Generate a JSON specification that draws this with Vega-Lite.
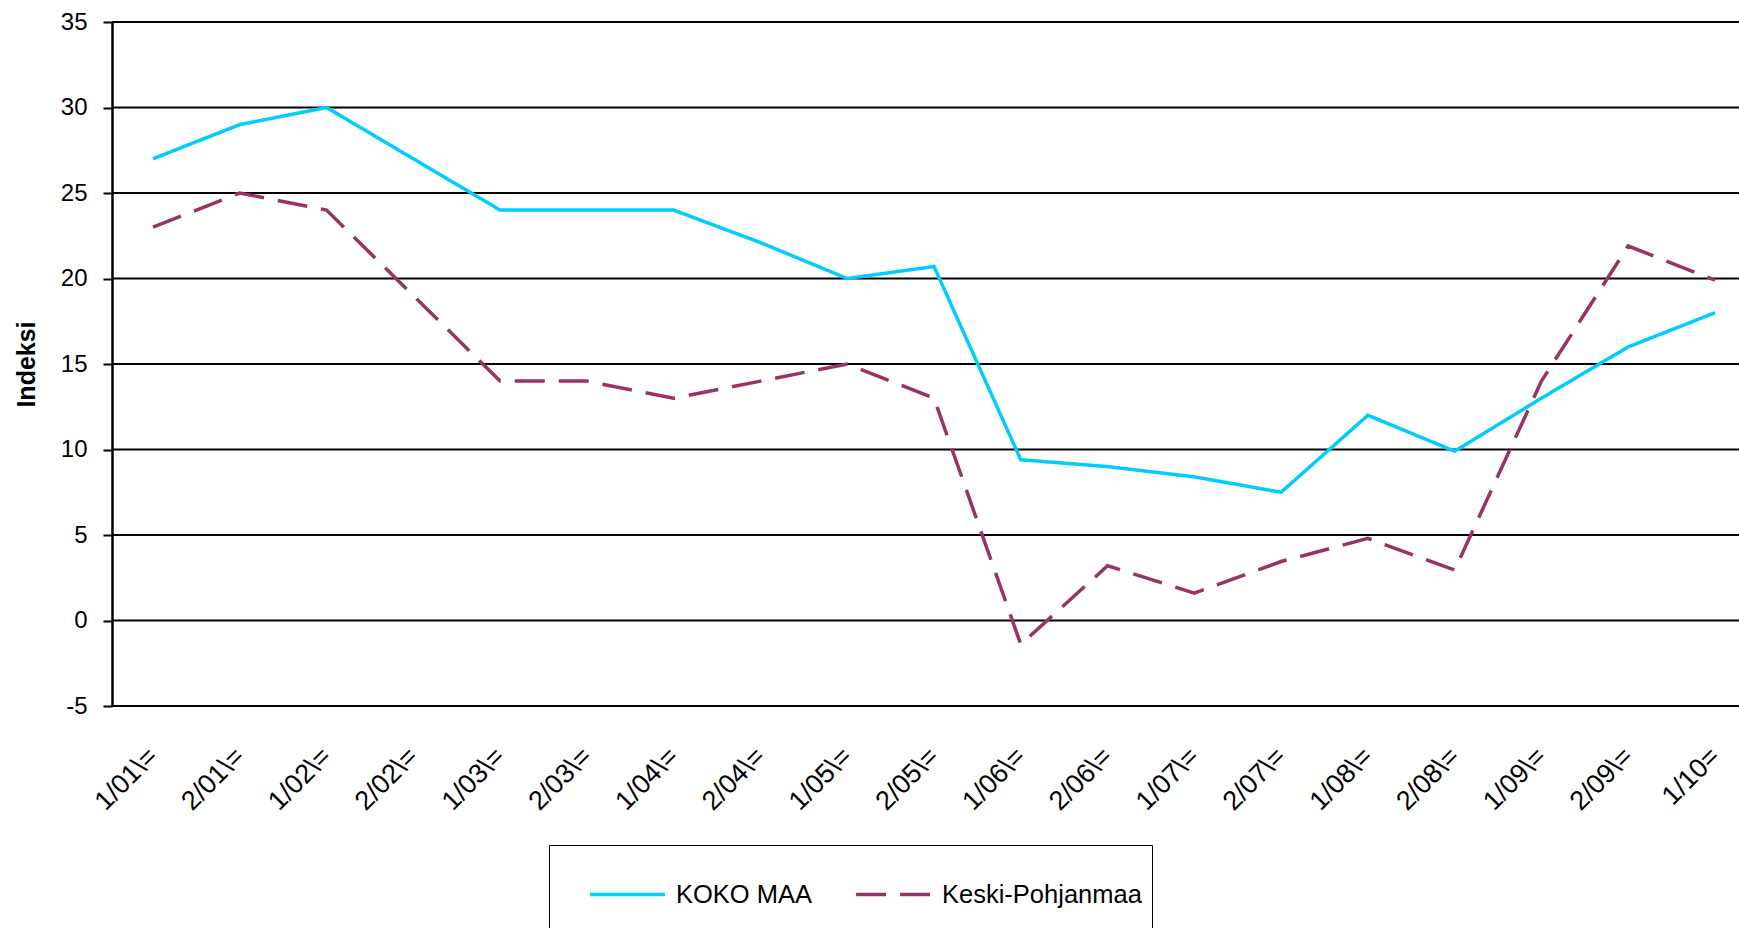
{
  "$schema": "https://vega.github.io/schema/vega-lite/v6.json",
  "autosize": "none",
  "width": 1627,
  "height": 684,
  "padding": {"left": 112, "top": 22, "right": 0, "bottom": 222},
  "background": "white",
  "config": {
    "font": "Liberation Sans",
    "view": {"stroke": null}
  },
  "encoding": {
    "y": {
      "field": "value",
      "type": "quantitative",
      "scale": {"domain": [-5, 35], "nice": false, "zero": false},
      "axis": {
        "title": "Indeksi",
        "titleFontSize": 25,
        "titleFontWeight": "bold",
        "titleColor": "black",
        "titlePadding": 21,
        "values": [-5, 0, 5, 10, 15, 20, 25, 30, 35],
        "labelExpr": "'' + datum.value",
        "labelFontSize": 24,
        "labelColor": "black",
        "labelPadding": 16,
        "tickSize": 9,
        "tickColor": "black",
        "tickWidth": 2,
        "domainColor": "black",
        "domainWidth": 2.5,
        "grid": false
      }
    }
  },
  "layer": [
    {
      "data": {
        "values": [
          {"value": -5}, {"value": 0}, {"value": 5}, {"value": 10}, {"value": 15},
          {"value": 20}, {"value": 25}, {"value": 30}, {"value": 35}
        ]
      },
      "mark": {"type": "rule", "color": "black", "strokeWidth": 2}
    },
    {
      "data": {
        "values": [
          {"t": "1/01\\=", "series": "KOKO MAA", "value": 27},
          {"t": "2/01\\=", "series": "KOKO MAA", "value": 29},
          {"t": "1/02\\=", "series": "KOKO MAA", "value": 30},
          {"t": "2/02\\=", "series": "KOKO MAA", "value": 27},
          {"t": "1/03\\=", "series": "KOKO MAA", "value": 24},
          {"t": "2/03\\=", "series": "KOKO MAA", "value": 24},
          {"t": "1/04\\=", "series": "KOKO MAA", "value": 24},
          {"t": "2/04\\=", "series": "KOKO MAA", "value": 22.1},
          {"t": "1/05\\=", "series": "KOKO MAA", "value": 20},
          {"t": "2/05\\=", "series": "KOKO MAA", "value": 20.7},
          {"t": "1/06\\=", "series": "KOKO MAA", "value": 9.4},
          {"t": "2/06\\=", "series": "KOKO MAA", "value": 9.0},
          {"t": "1/07\\=", "series": "KOKO MAA", "value": 8.4},
          {"t": "2/07\\=", "series": "KOKO MAA", "value": 7.5},
          {"t": "1/08\\=", "series": "KOKO MAA", "value": 12},
          {"t": "2/08\\=", "series": "KOKO MAA", "value": 9.9},
          {"t": "1/09\\=", "series": "KOKO MAA", "value": 13},
          {"t": "2/09\\=", "series": "KOKO MAA", "value": 16},
          {"t": "1/10=", "series": "KOKO MAA", "value": 18},
          {"t": "1/01\\=", "series": "Keski-Pohjanmaa", "value": 23},
          {"t": "2/01\\=", "series": "Keski-Pohjanmaa", "value": 25},
          {"t": "1/02\\=", "series": "Keski-Pohjanmaa", "value": 24},
          {"t": "2/02\\=", "series": "Keski-Pohjanmaa", "value": 19},
          {"t": "1/03\\=", "series": "Keski-Pohjanmaa", "value": 14},
          {"t": "2/03\\=", "series": "Keski-Pohjanmaa", "value": 14},
          {"t": "1/04\\=", "series": "Keski-Pohjanmaa", "value": 13},
          {"t": "2/04\\=", "series": "Keski-Pohjanmaa", "value": 14},
          {"t": "1/05\\=", "series": "Keski-Pohjanmaa", "value": 15},
          {"t": "2/05\\=", "series": "Keski-Pohjanmaa", "value": 13},
          {"t": "1/06\\=", "series": "Keski-Pohjanmaa", "value": -1.4},
          {"t": "2/06\\=", "series": "Keski-Pohjanmaa", "value": 3.2},
          {"t": "1/07\\=", "series": "Keski-Pohjanmaa", "value": 1.6},
          {"t": "2/07\\=", "series": "Keski-Pohjanmaa", "value": 3.45},
          {"t": "1/08\\=", "series": "Keski-Pohjanmaa", "value": 4.8},
          {"t": "2/08\\=", "series": "Keski-Pohjanmaa", "value": 2.95},
          {"t": "1/09\\=", "series": "Keski-Pohjanmaa", "value": 14},
          {"t": "2/09\\=", "series": "Keski-Pohjanmaa", "value": 21.9},
          {"t": "1/10=", "series": "Keski-Pohjanmaa", "value": 19.9}
        ]
      },
      "mark": {"type": "line", "strokeWidth": 3.5, "strokeCap": "butt", "strokeJoin": "miter"},
      "encoding": {
        "x": {
          "field": "t",
          "type": "ordinal",
          "sort": null,
          "scale": {"type": "point", "range": [41, 1603], "padding": 0},
          "axis": {
            "title": null,
            "ticks": false,
            "domain": false,
            "labelAngle": -45,
            "labelAlign": "right",
            "labelBaseline": "middle",
            "labelPadding": 46,
            "labelFontSize": 27,
            "labelColor": "black",
            "grid": false
          }
        },
        "color": {
          "field": "series",
          "type": "nominal",
          "sort": ["KOKO MAA", "Keski-Pohjanmaa"],
          "scale": {"domain": ["KOKO MAA", "Keski-Pohjanmaa"], "range": ["#00CCFF", "#993366"]},
          "legend": {
            "title": " ",
            "titleOrient": "bottom",
            "titleFontSize": 20,
            "titlePadding": 6,
            "orient": "none",
            "legendX": 437,
            "legendY": 823,
            "direction": "horizontal",
            "strokeColor": "black",
            "fillColor": "white",
            "padding": 10,
            "symbolOffset": 29,
            "labelFontSize": 25.5,
            "labelLimit": 0,
            "labelColor": "black",
            "labelOffset": 9,
            "columnPadding": 12,
            "symbolType": "stroke",
            "symbolSize": 5600,
            "symbolStrokeWidth": 3.5
          }
        },
        "strokeDash": {
          "field": "series",
          "type": "nominal",
          "sort": ["KOKO MAA", "Keski-Pohjanmaa"],
          "scale": {"domain": ["KOKO MAA", "Keski-Pohjanmaa"], "range": [[1, 0], [30, 14]]},
          "legend": {
            "title": " ",
            "titleOrient": "bottom",
            "titleFontSize": 20,
            "titlePadding": 6,
            "orient": "none",
            "legendX": 437,
            "legendY": 823,
            "direction": "horizontal",
            "strokeColor": "black",
            "fillColor": "white",
            "padding": 10,
            "symbolOffset": 29,
            "labelFontSize": 25.5,
            "labelLimit": 0,
            "labelColor": "black",
            "labelOffset": 9,
            "columnPadding": 12,
            "symbolType": "stroke",
            "symbolSize": 5600,
            "symbolStrokeWidth": 3.5
          }
        }
      }
    }
  ]
}
